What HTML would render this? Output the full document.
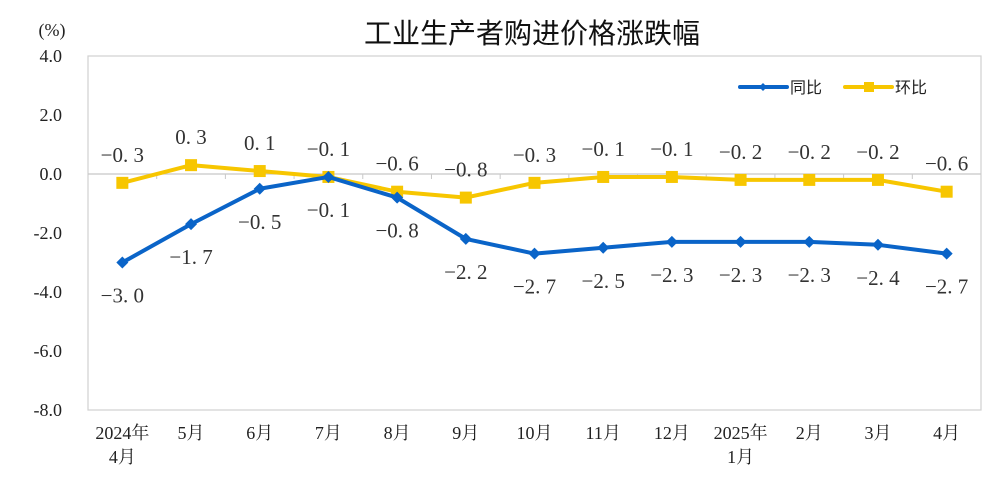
<!DOCTYPE html>
<html><head><meta charset="utf-8"><style>
body{margin:0;background:#fff;}
svg text{font-family:"Liberation Serif","Noto Serif CJK SC",serif;}
</style></head><body>
<svg id="c" width="1000" height="479" xmlns="http://www.w3.org/2000/svg">
<rect width="1000" height="479" fill="#fff"/>
<text x="532" y="43" text-anchor="middle" font-size="28" fill="#111" style="font-family:'Noto Sans CJK SC',sans-serif">工业生产者购进价格涨跌幅</text>
<text x="52" y="36" text-anchor="middle" font-size="18" fill="#222">(%)</text>
<rect x="88" y="56" width="893" height="354" fill="none" stroke="#d0d0d0" stroke-width="1.2"/>
<g id="yt"></g><g id="xt"></g><g id="ser"></g>
<g>
<g>
<line x1="740" y1="87" x2="787" y2="87" stroke="#0a64c8" stroke-width="4" stroke-linecap="round"/>
<path d="M763 83 L767 87 L763 91 L759 87Z" fill="#0a64c8"/>
<text x="790" y="93" font-size="16" fill="#222" style="font-family:'Noto Sans CJK SC',sans-serif">同比</text></g>
<g>
<line x1="845" y1="87" x2="892" y2="87" stroke="#f7c600" stroke-width="4" stroke-linecap="round"/>
<rect x="864" y="82" width="10" height="10" fill="#f7c600"/>
<text x="895" y="93" font-size="16" fill="#222" style="font-family:'Noto Sans CJK SC',sans-serif">环比</text></g>
</g>
</svg>
<script>
const categories=["2024年|4月","5月","6月","7月","8月","9月","10月","11月","12月","2025年|1月","2月","3月","4月"];
const yoy=[-3.0,-1.7,-0.5,-0.1,-0.8,-2.2,-2.7,-2.5,-2.3,-2.3,-2.3,-2.4,-2.7];
const mom=[-0.3,0.3,0.1,-0.1,-0.6,-0.8,-0.3,-0.1,-0.1,-0.2,-0.2,-0.2,-0.6];
const yTicks=[4,2,0,-2,-4,-6,-8];
const NS="http://www.w3.org/2000/svg";
const L=88,R=981,T=56,B=410,yMax=4,yMin=-8;
const step=(R-L)/categories.length;
const X=i=>L+step*(i+0.5);
const Y=v=>T+(yMax-v)/(yMax-yMin)*(B-T);
function mk(tag,a,parent){const e=document.createElementNS(NS,tag);for(const k in a)e.setAttribute(k,a[k]);parent.appendChild(e);return e;}
const yt=document.getElementById('yt'),xt=document.getElementById('xt'),ser=document.getElementById('ser');
yTicks.forEach(v=>{const t=mk('text',{x:62,y:Y(v)+6,'text-anchor':'end','font-size':18,fill:'#222'},yt);t.textContent=v.toFixed(1);

});
const zl=mk('line',{x1:L,x2:R,y1:Y(0),y2:Y(0),stroke:'#c8c8c8','stroke-width':1.2},yt);


for(let i=1;i<categories.length;i++){const tk=mk('line',{x1:L+step*i,x2:L+step*i,y1:Y(0),y2:Y(0)+5,stroke:'#c8c8c8'},yt);

}
categories.forEach((c,i)=>{c.split('|').forEach((s,j)=>{const t=mk('text',{x:X(i),y:439+j*24,'text-anchor':'middle','font-size':18,fill:'#222'},xt);t.textContent=s;

});});
function fmt(v){const s=Math.abs(v).toFixed(1).replace('.','. ');return (v<0?'−':'')+s;}
function series(vals,color,name,marker,labelDy){
const g=mk('g',{},ser);


const pl=mk('polyline',{points:vals.map((v,i)=>X(i)+','+Y(v)).join(' '),fill:'none',stroke:color,'stroke-width':4,'stroke-linejoin':'round'},g);


vals.forEach((v,i)=>{let m;
if(marker==='d'){const x=X(i),y=Y(v);m=mk('path',{d:`M${x} ${y-6}L${x+6} ${y}L${x} ${y+6}L${x-6} ${y}Z`,fill:color},g);}
else m=mk('rect',{x:X(i)-6,y:Y(v)-6,width:12,height:12,fill:color},g);


const t=mk('text',{x:X(i),y:Y(v)+labelDy(v,i),'text-anchor':'middle','font-size':21,fill:'#333'},g);t.textContent=fmt(v);

});}
series(mom,'#f7c600','mom','s',()=>-21);
series(yoy,'#0a64c8','yoy','d',()=>40);
</script>
</body></html>
